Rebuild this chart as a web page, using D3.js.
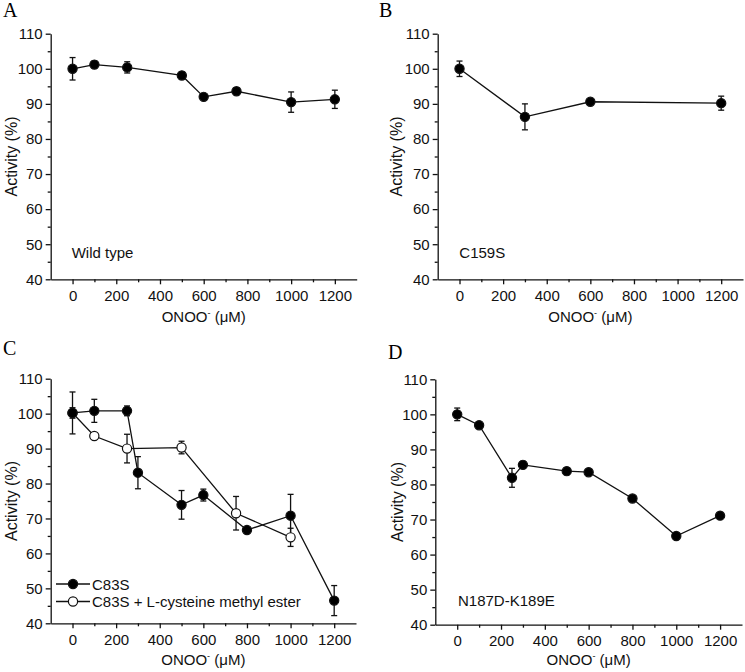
<!DOCTYPE html>
<html>
<head>
<meta charset="utf-8">
<script src="https://cdn.jsdelivr.net/npm/d3@7"></script>
<style>
  body { margin: 0; background: #fff; }
  svg { display: block; font-family: "Liberation Sans", Arial, sans-serif; }
</style>
</head>
<body>
<div id="vis"></div>
<script>
// ---- data ----
var doseA = [0, 100, 250, 500, 600, 750, 1000, 1200];
var actA  = [100, 101.2, 100.4, 98.1, 92.0, 93.6, 90.5, 91.3];
var errA  = [3.2, 1.0, 1.6, 1.0, 0.5, 1.0, 2.9, 2.6];

var doseB = [0, 300, 600, 1200];
var actB  = [100, 86.3, 90.6, 90.2];
var errB  = [2.2, 3.7, 0.6, 2.0];

var doseC1 = [0, 100, 250, 300, 500, 600, 800, 1000, 1200];
var actC1  = [100.2, 100.8, 100.8, 83.1, 73.9, 76.7, 66.7, 70.8, 46.5];
var errC1  = [1.5, 3.3, 1.4, 4.6, 4.1, 1.7, 0.7, 6.1, 4.3];

var doseC2 = [0, 100, 250, 500, 750, 1000];
var actC2  = [100.2, 93.6, 90.0, 90.3, 71.5, 64.6];
var errC2  = [6.0, 0.5, 4.1, 1.8, 4.8, 2.6];

var doseD = [0, 100, 250, 300, 500, 600, 800, 1000, 1200];
var actD  = [100, 96.9, 81.9, 85.6, 83.8, 83.5, 76.0, 65.3, 71.1];
var errD  = [1.8, 0.6, 2.7, 1.0, 1.0, 0.5, 0.6, 0.8, 0.5];

var yMajor = [40, 50, 60, 70, 80, 90, 100, 110];
var yMinor = [45, 55, 65, 75, 85, 95, 105];
var xMajor = [0, 200, 400, 600, 800, 1000, 1200];
var xMinor = [100, 300, 500, 700, 900, 1100];

var legendC = ['C83S', 'C83S + L-cysteine methyl ester'];

function zip(xs, ys, es) {
  return xs.map(function (x, i) { return { x: x, y: ys[i], e: es[i] }; });
}

var panels = [
  { letter: 'A', lx: 3, ly: 17, left: 50.7, right: 356.7, top: 33.7, bottom: 279.3, titleX: 16.5, titleY: 43,
    note: 'Wild type', nx: 71.7, ny: 258,
    series: [{ data: zip(doseA, actA, errA), open: false }] },
  { letter: 'B', lx: 379, ly: 17, left: 437.7, right: 743, top: 33.7, bottom: 279.3, titleX: 402, titleY: 43,
    note: 'C159S', nx: 459.3, ny: 258,
    series: [{ data: zip(doseB, actB, errB), open: false }] },
  { letter: 'C', lx: 3, ly: 354.5, left: 50.7, right: 356, top: 378.7, bottom: 623.3, titleX: 16.5, titleY: 42,
    note: null, legend: true,
    series: [{ data: zip(doseC2, actC2, errC2), open: true },
             { data: zip(doseC1, actC1, errC1), open: false }] },
  { letter: 'D', lx: 388, ly: 358.7, left: 435.3, right: 742, top: 379.3, bottom: 624.7, titleX: 402.5, titleY: 40.5,
    note: 'N187D-K189E', nx: 458, ny: 606,
    series: [{ data: zip(doseD, actD, errD), open: false }] }
];

var svg = d3.select('#vis').append('svg')
  .attr('width', 745)
  .attr('height', 672);

var markR = 4.6;
var capW = 3;
var fs = '15px';

function drawPanel(p) {
  var x = d3.scaleLinear().domain([-100, 1300]).range([p.left, p.right]);
  var y = d3.scaleLinear().domain([40, 110]).range([p.bottom, p.top]);

  var g = svg.append('g');

  // panel letter
  svg.append('text')
    .attr('x', p.lx).attr('y', p.ly)
    .style('font-family', '"Liberation Serif", "Times New Roman", serif')
    .style('font-size', '20px')
    .text(p.letter);

  // axes
  var yAxis = d3.axisLeft(y).tickValues(yMajor).tickSize(5).tickSizeOuter(0).tickPadding(3)
    .tickFormat(d3.format('d'));
  var yAxisMinor = d3.axisLeft(y).tickValues(yMinor).tickSize(3).tickFormat('');
  var xAxis = d3.axisBottom(x).tickValues(xMajor).tickSize(5).tickSizeOuter(0).tickPadding(6)
    .tickFormat(d3.format('d'));
  var xAxisMinor = d3.axisBottom(x).tickValues(xMinor).tickSize(3).tickFormat('');

  g.append('g').attr('transform', 'translate(' + p.left + ',0)').call(yAxis);
  g.append('g').attr('transform', 'translate(' + p.left + ',0)').call(yAxisMinor)
    .select('.domain').remove();
  g.append('g').attr('transform', 'translate(0,' + p.bottom + ')').call(xAxis);
  g.append('g').attr('transform', 'translate(0,' + p.bottom + ')').call(xAxisMinor)
    .select('.domain').remove();

  g.selectAll('.domain, .tick line').attr('stroke', '#111').attr('stroke-width', 1.3);
  g.selectAll('.tick text')
    .style('font-family', '"Liberation Sans", Arial, sans-serif')
    .style('font-size', fs)
    .attr('fill', '#111');

  // axis titles
  var xt = g.append('text')
    .attr('x', (p.left + p.right) / 2)
    .attr('y', p.bottom + p.titleY)
    .attr('text-anchor', 'middle')
    .style('font-size', fs)
    .attr('fill', '#111');
  xt.append('tspan').text('ONOO');
  xt.append('tspan').attr('dy', -6).style('font-size', '9px').text('-');
  xt.append('tspan').attr('dy', 6).text(' (\u03bcM)');

  g.append('text')
    .attr('transform', 'translate(' + p.titleX + ',' + ((p.top + p.bottom) / 2) + ') rotate(-90)')
    .attr('text-anchor', 'middle')
    .style('font-size', '16px')
    .attr('fill', '#111')
    .text('Activity (%)');

  if (p.note) {
    g.append('text')
      .attr('x', p.nx).attr('y', p.ny)
      .style('font-size', fs)
      .attr('fill', '#111')
      .text(p.note);
  }

  var line = d3.line()
    .x(function (d) { return x(d.x); })
    .y(function (d) { return y(d.y); });

  p.series.forEach(function (s) {
    g.append('path')
      .datum(s.data)
      .attr('fill', 'none')
      .attr('stroke', '#111')
      .attr('stroke-width', 1.3)
      .attr('d', line);
  });

  p.series.forEach(function (s) {
    var eb = g.append('g').selectAll('g')
      .data(s.data)
      .enter().append('g')
      .attr('stroke', '#111')
      .attr('stroke-width', 1.3);
    eb.append('line')
      .attr('x1', function (d) { return x(d.x); })
      .attr('x2', function (d) { return x(d.x); })
      .attr('y1', function (d) { return y(d.y + d.e); })
      .attr('y2', function (d) { return y(d.y - d.e); });
    eb.append('line')
      .attr('x1', function (d) { return x(d.x) - capW; })
      .attr('x2', function (d) { return x(d.x) + capW; })
      .attr('y1', function (d) { return y(d.y + d.e); })
      .attr('y2', function (d) { return y(d.y + d.e); });
    eb.append('line')
      .attr('x1', function (d) { return x(d.x) - capW; })
      .attr('x2', function (d) { return x(d.x) + capW; })
      .attr('y1', function (d) { return y(d.y - d.e); })
      .attr('y2', function (d) { return y(d.y - d.e); });
  });

  p.series.forEach(function (s) {
    g.append('g').selectAll('circle')
      .data(s.data)
      .enter().append('circle')
      .attr('cx', function (d) { return x(d.x); })
      .attr('cy', function (d) { return y(d.y); })
      .attr('r', markR)
      .attr('fill', s.open ? '#fff' : '#000')
      .attr('stroke', '#111')
      .attr('stroke-width', 1.2);
  });

  if (p.legend) {
    var rows = [{ name: legendC[0], open: false, yy: 584 }, { name: legendC[1], open: true, yy: 601.5 }];
    var lg = g.append('g').selectAll('g')
      .data(rows)
      .enter().append('g')
      .attr('transform', function (d) { return 'translate(0,' + d.yy + ')'; });
    lg.append('line')
      .attr('x1', 56).attr('x2', 90)
      .attr('stroke', '#111').attr('stroke-width', 1.3);
    lg.append('circle')
      .attr('cx', 73).attr('r', markR)
      .attr('fill', function (d) { return d.open ? '#fff' : '#000'; })
      .attr('stroke', '#111').attr('stroke-width', 1.2);
    lg.append('text')
      .attr('x', 92).attr('y', 5.5)
      .style('font-size', fs)
      .attr('fill', '#111')
      .text(function (d) { return d.name; });
  }
}

panels.forEach(drawPanel);
</script>
</body>
</html>
